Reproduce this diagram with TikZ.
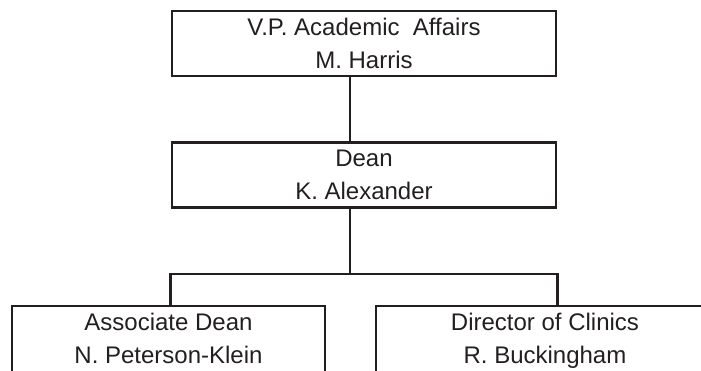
\documentclass[tikz,border=0pt]{standalone}
\usepackage{fontspec}
\setmainfont{Liberation Sans}
\usepackage{tikz}

\definecolor{ink}{HTML}{231F20}

\begin{document}
\begin{tikzpicture}[x=1pt, y=1pt,
  post/.style={draw=ink, line width=2.8pt, inner sep=0pt, text=ink, align=center,
    minimum height=65pt, font=\fontsize{24}{33}\selectfont},
  low/.style={minimum height=95pt, text depth=30pt},
  link/.style={draw=ink, line width=2.8pt}]

\clip (0,0) rectangle (701,370);

\node[post, minimum width=384pt] (vp)      at (364,326.5) {V.P. Academic\ \ Affairs\\M. Harris};
\node[post, minimum width=384pt] (dean)    at (364,195)   {Dean\\K. Alexander};
\node[post, low, minimum width=313pt] (assoc)   at (168.5,16.5) {Associate Dean\\N. Peterson-Klein};
\node[post, low, minimum width=338pt] (clinics) at (545,16.5)   {Director of Clinics\\R. Buckingham};

\coordinate (fork) at (350,96);

\draw[link] ([xshift=-14pt]vp.south) -- ([xshift=-14pt]dean.north);
\draw[link] (dean.south -| fork) -- (fork);
\draw[link] (assoc.north -| dean.west) |- (fork) -| (clinics.north -| dean.east);

\end{tikzpicture}
\end{document}
